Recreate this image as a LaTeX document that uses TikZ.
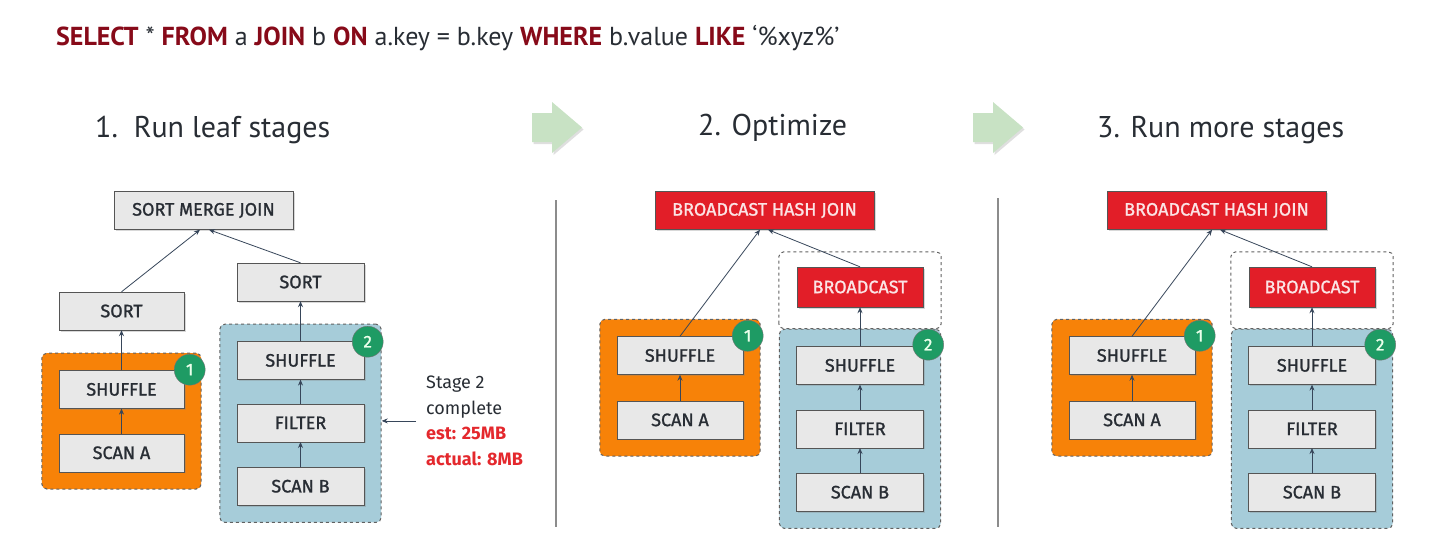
\documentclass[tikz,border=0pt]{standalone}
\usepackage{fontspec}
\setmainfont{Fira Sans}
\newfontfamily\headfont{PT Sans}
\newfontfamily\opfont[FakeBold=1.2]{Fira Sans}
\usepackage{xcolor}
\usepackage{tikz}
\usetikzlibrary{arrows.meta,positioning,fit,backgrounds,shadows}
\definecolor{opfill}{RGB}{232,232,232}
\definecolor{opline}{RGB}{85,85,85}
\definecolor{stageorange}{RGB}{247,130,8}
\definecolor{stageblue}{RGB}{166,204,217}
\definecolor{joinred}{RGB}{226,30,40}
\definecolor{badgegreen}{RGB}{30,155,100}
\definecolor{sqlred}{RGB}{135,10,25}
\definecolor{inkgray}{RGB}{40,45,52}
\definecolor{edgeslate}{RGB}{55,70,90}
\definecolor{paleleaf}{RGB}{200,226,196}
\definecolor{notered}{RGB}{228,40,45}
\newcommand{\sqlkw}[1]{\textcolor{sqlred}{\textbf{#1}}}

\begin{document}
\begin{tikzpicture}[x=1pt,y=-1pt,>={Stealth[length=6pt,width=5pt]},
      node distance=25pt,
      opbox/.style={draw=opline,fill=opfill,minimum width=125pt,minimum height=38pt,inner sep=0pt,
        font=\opfont\fontsize{18}{21}\selectfont,text=inkgray,
        drop shadow={shadow xshift=1.5pt,shadow yshift=-1.5pt,opacity=0.3}},
      joinbox/.style={opbox,fill=joinred,text=joinred!12},
      stagebox/.style={draw=black!62,dashed,line width=1pt,rounded corners=5pt,inner sep=17pt},
      badge/.style={circle,draw=black!55,fill=badgegreen,text=green!8,minimum size=31pt,inner sep=0pt,
        font=\opfont\fontsize{17}{19}\selectfont},
      flow/.style={->,draw=edgeslate,line width=0.8pt},
      heading/.style={anchor=base west,inner sep=0pt,text=inkgray,font=\headfont\fontsize{30}{36}\selectfont},
      divider/.style={draw=black!45,line width=1.2pt}]
    \begin{scope}[on background layer]
      \fill[white] (0,0) rectangle (1434,554);
    \end{scope}
    \useasboundingbox (0,0) rectangle (1434,554);

    % query and step titles
    \node[anchor=base west,inner sep=0pt,text=inkgray,font=\headfont\fontsize{26}{30}\selectfont] (sql) at (56,45)
      {\sqlkw{SELECT} * \sqlkw{FROM} a \sqlkw{JOIN} b \sqlkw{ON} a.key = b.key \sqlkw{WHERE} b.value \sqlkw{LIKE} ‘\%xyz\%’};
    \node[heading] (h1) at (95,137) {1.\ \ Run leaf stages};
    \node[heading] (h2) at (698,135) {2. Optimize};
    \node[heading] (h3) at (1097,137) {3. Run more stages};
    \foreach \ax in {532,973}
      \fill[paleleaf,drop shadow={shadow xshift=1.5pt,shadow yshift=-2pt,opacity=0.25}]
        (\ax,113) -- ({\ax+20},113) -- ({\ax+20},102) -- ({\ax+50},127.5)
        -- ({\ax+20},153) -- ({\ax+20},142) -- (\ax,142) -- cycle;
    \draw[divider] (556,200) -- (556,527);
    \draw[divider] (998,198) -- (998,527);

    % step 1: sort merge join
    \node[opbox,minimum width=179pt] (smj) at (203.5,210.5) {SORT MERGE JOIN};
    \node[opbox] (sortA) at (121.5,311) {SORT};
    \node[opbox,below=40pt of sortA] (shufA) {SHUFFLE};
    \node[opbox,below=of shufA] (scanA) {SCAN A};
    \node[opbox,minimum width=127pt] (sortB) at (300.5,282) {SORT};
    \node[opbox,minimum width=127pt,below=40pt of sortB] (shufB) {SHUFFLE};
    \node[opbox,minimum width=127pt,below=24pt of shufB] (filtB) {FILTER};
    \node[opbox,minimum width=127pt,below=of filtB] (scanB) {SCAN B};
    \begin{scope}[on background layer]
      \node[stagebox,fill=stageorange,fit=(shufA)(scanA)] (stA) {};
      \node[stagebox,fill=stageblue,fit=(shufB)(scanB)] (stB) {};
    \end{scope}
    \node[badge] (bA) at ([xshift=-12pt,yshift=-17pt]stA.north east) {1};
    \node[badge] (bB) at ([xshift=-14pt,yshift=-18pt]stB.north east) {2};
    \draw[flow] (scanA) -- (shufA);
    \draw[flow] (shufA) -- (sortA);
    \draw[flow] (sortA.north) -- ([xshift=-3.5pt]smj.south);
    \draw[flow] (scanB) -- (filtB);
    \draw[flow] (filtB) -- (shufB);
    \draw[flow] (shufB) -- (sortB);
    \draw[flow] (sortB.north) -- ([xshift=5.5pt]smj.south);
    \node[anchor=north west,inner sep=0pt,align=left,text=inkgray,font=\fontsize{18}{25.5}\selectfont] (note) at (426,376)
      {Stage 2\\complete\\\textcolor{notered}{\textbf{est: 25MB}}\\\textcolor{notered}{\textbf{actual: 8MB}}};
    \draw[flow,shorten <=10pt] (note.west) -- (note.west -| stB.east);

    % steps 2 and 3: broadcast hash join
    \foreach \p/\dx in {2/0,3/452}{
      \node[joinbox,minimum width=219pt] (bhj\p) at ({764.5+\dx},210.5) {BROADCAST HASH JOIN};
      \node[joinbox,minimum width=126pt,minimum height=40pt] (bc\p) at ({860+\dx},287) {BROADCAST};
      \node[opbox,minimum width=127pt,below=39pt of bc\p] (shufB\p) {SHUFFLE};
      \node[opbox,minimum width=127pt,below=of shufB\p] (filtB\p) {FILTER};
      \node[opbox,minimum width=127pt,below=of filtB\p] (scanB\p) {SCAN B};
      \node[opbox,minimum width=126pt] (shufA\p) at ({680+\dx},355.5) {SHUFFLE};
      \node[opbox,minimum width=126pt,below=26pt of shufA\p] (scanA\p) {SCAN A};
      \begin{scope}[on background layer]
        \node[stagebox,fill=stageorange,fit=(shufA\p)(scanA\p)] (stA\p) {};
        \node[stagebox,fill=stageblue,fit=(shufB\p)(scanB\p)] (stB\p) {};
        \draw[stagebox,fill=white] (stB\p.north west) rectangle ([yshift=15pt]bc\p.north -| stB\p.east);
      \end{scope}
      \node[badge] (bA\p) at ([xshift=-13pt,yshift=-17pt]stA\p.north east) {1};
      \node[badge] (bB\p) at ([xshift=-13pt,yshift=-16pt]stB\p.north east) {2};
      \draw[flow] (scanA\p) -- (shufA\p);
      \draw[flow] (shufA\p.north) -- ([xshift=-4.5pt]bhj\p.south);
      \draw[flow] (scanB\p) -- (filtB\p);
      \draw[flow] (filtB\p) -- (shufB\p);
      \draw[flow] (shufB\p) -- (bc\p);
      \draw[flow] (bc\p.north) -- ([xshift=3.5pt]bhj\p.south);
    }
  \end{tikzpicture}
\end{document}
